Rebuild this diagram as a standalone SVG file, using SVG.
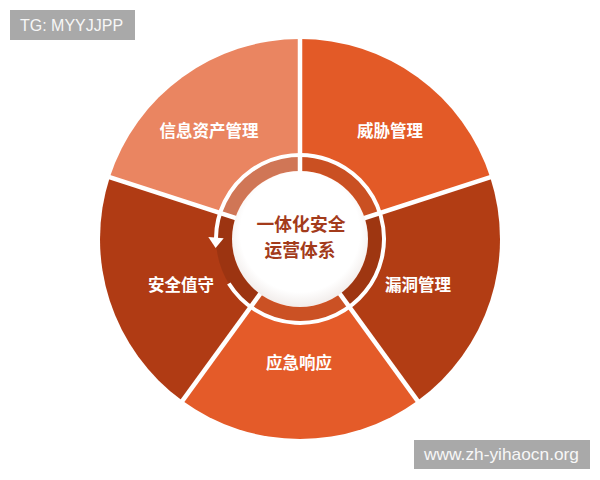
<svg xmlns="http://www.w3.org/2000/svg" width="600" height="480" viewBox="0 0 600 480">
<style>
.lbl{font-family:"Noto Sans CJK SC","Noto Sans",sans-serif;font-weight:700;font-size:16.5px;fill:#FFFFFF;text-anchor:middle}
.ctr{font-family:"Noto Sans CJK SC","Noto Sans",sans-serif;font-weight:700;font-size:17.8px;fill:#A33B1B;text-anchor:middle}
.div{stroke:#FFFFFF;stroke-width:4.5;fill:none}
.wm{fill:#A9A9A9}
.wmt{font-family:"Liberation Sans",Arial,sans-serif;fill:#F7F7F7}
</style>
<defs>
<radialGradient id="wc" cx="0.5" cy="0.45" r="0.55">
<stop offset="0.8" stop-color="#FFFFFF"/>
<stop offset="1" stop-color="#F1ECEA"/>
</radialGradient>
</defs>
<rect width="600" height="480" fill="#FFFFFF"/>
<g id="node-threat">
<path d="M300 239 L300 39 A200 200 0 0 1 490.21 177.20 Z" fill="#E35A27"/>
<text class="lbl" x="390" y="137">威胁管理</text>
</g>
<g id="node-vuln">
<path d="M300 239 L490.21 177.20 A200 200 0 0 1 417.56 400.80 Z" fill="#B23D14"/>
<text class="lbl" x="418" y="291">漏洞管理</text>
</g>
<g id="node-emergency">
<path d="M300 239 L417.56 400.80 A200 200 0 0 1 182.44 400.80 Z" fill="#E45B29"/>
<text class="lbl" x="299" y="369">应急响应</text>
</g>
<g id="node-duty">
<path d="M300 239 L182.44 400.80 A200 200 0 0 1 109.79 177.20 Z" fill="#B03B14"/>
<text class="lbl" x="181" y="291">安全值守</text>
</g>
<g id="node-asset">
<path d="M300 239 L109.79 177.20 A200 200 0 0 1 300 39 Z" fill="#EA8561"/>
<text class="lbl" x="209" y="137">信息资产管理</text>
</g>
<g id="connectors">
<circle cx="300" cy="239" r="76" fill="none" stroke="#000000" stroke-opacity="0.11" stroke-width="16"/>
<line class="div" x1="300" y1="239" x2="300" y2="37"/>
<line class="div" x1="300" y1="239" x2="492.1" y2="176.6"/>
<line class="div" x1="300" y1="239" x2="418.7" y2="402.4"/>
<line class="div" x1="300" y1="239" x2="181.3" y2="402.4"/>
<line class="div" x1="300" y1="239" x2="107.9" y2="176.6"/>
<path d="M228.8 283.5 A84 84 0 1 0 216 238" fill="none" stroke="#FFFFFF" stroke-width="4"/>
<polygon points="208.3,237 223.7,238.2 215.6,248" fill="#FFFFFF"/>
</g>
<g id="node-center">
<circle cx="300" cy="239" r="68" fill="url(#wc)"/>
<text class="ctr" x="301" y="231">一体化安全</text>
<text class="ctr" x="300" y="257">运营体系</text>
</g>
<g id="watermark-tg">
<rect class="wm" x="10" y="10" width="125" height="30"/>
<text class="wmt" x="20" y="31" font-size="16">TG: MYYJJPP</text>
</g>
<g id="watermark-url">
<rect class="wm" x="414" y="440" width="176" height="29"/>
<text class="wmt" x="424" y="460" font-size="17" textLength="155" lengthAdjust="spacingAndGlyphs">www.zh-yihaocn.org</text>
</g>
</svg>
